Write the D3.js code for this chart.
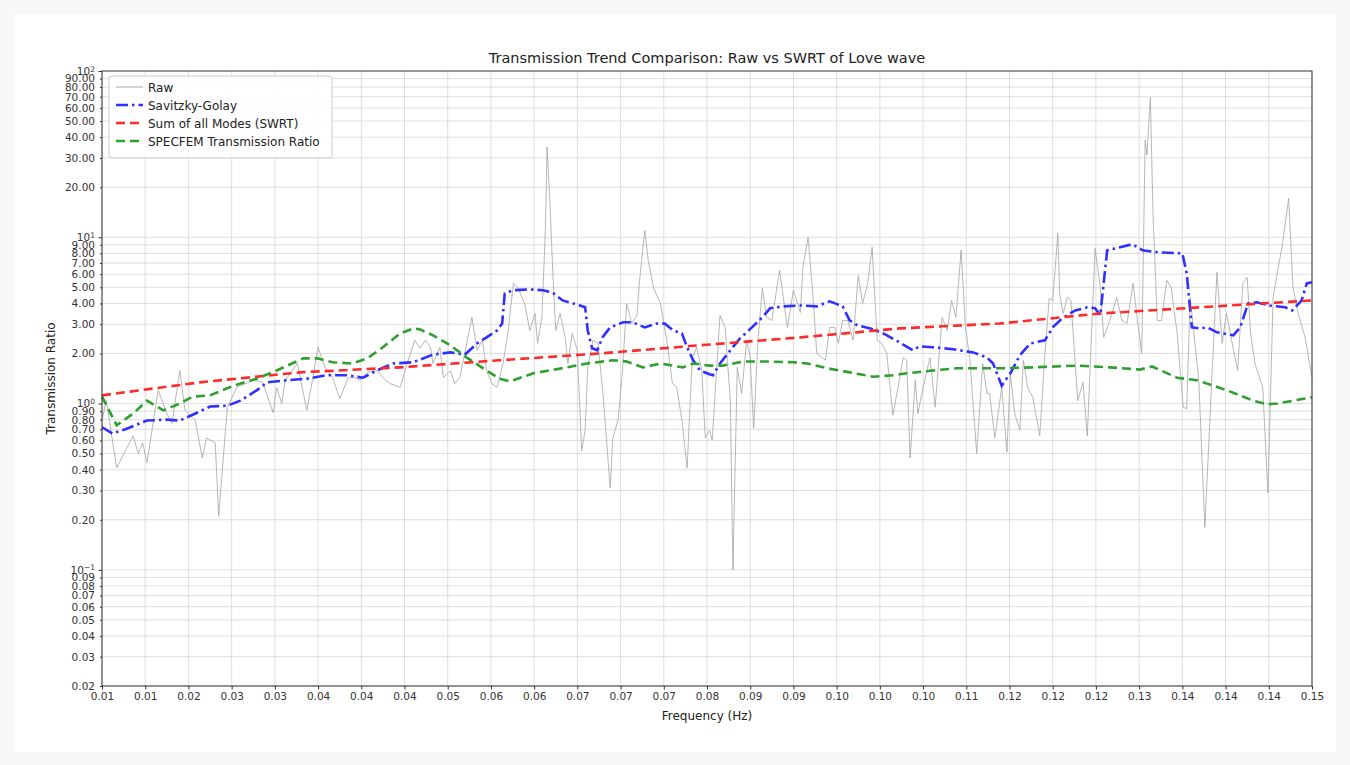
<!DOCTYPE html>
<html>
<head>
<meta charset="utf-8">
<script src="https://cdn.jsdelivr.net/npm/d3@7"></script>
<style>
  body { margin: 0; background: #f7f7f7; }
  svg { display: block; font-family: "DejaVu Sans", sans-serif; }
</style>
</head>
<body>
<svg id="chart" width="1350" height="765"></svg>
<script>
// x ticks and their labels (labels rounded to 2 decimals like the original)
const freqTicks = [0.01, 0.015, 0.02, 0.025, 0.03, 0.035, 0.04, 0.045, 0.05, 0.055,
  0.06, 0.065, 0.07, 0.075, 0.08, 0.085, 0.09, 0.095, 0.10, 0.105, 0.11, 0.115,
  0.12, 0.125, 0.13, 0.135, 0.14, 0.145, 0.15];
const freqTickLabels = ['0.01', '0.01', '0.02', '0.03', '0.03', '0.04', '0.04', '0.04', '0.05', '0.06',
  '0.06', '0.07', '0.07', '0.07', '0.08', '0.09', '0.09', '0.10', '0.10', '0.10', '0.11', '0.12',
  '0.12', '0.12', '0.13', '0.14', '0.14', '0.14', '0.15'];

const yMajorTicks = [0.1, 1, 10, 100];
const yMajorExp = ['\u22121', '0', '1', '2'];
const yMinorTicks = [0.02, 0.03, 0.04, 0.05, 0.06, 0.07, 0.08, 0.09,
  0.2, 0.3, 0.4, 0.5, 0.6, 0.7, 0.8, 0.9,
  2, 3, 4, 5, 6, 7, 8, 9,
  20, 30, 40, 50, 60, 70, 80, 90];

// [frequency, ratio]
const rawPoints = [
  [0.0100, 0.79], [0.0105, 1.04], [0.0117, 0.41], [0.0136, 0.64], [0.0142, 0.50],
  [0.0147, 0.58], [0.0152, 0.44], [0.0165, 1.20], [0.0175, 0.87], [0.0181, 0.76],
  [0.0190, 1.58], [0.0196, 0.91], [0.0208, 0.79], [0.0216, 0.47], [0.0221, 0.62],
  [0.0231, 0.58], [0.0235, 0.21], [0.0245, 0.95], [0.0256, 1.25], [0.0275, 1.38],
  [0.0286, 1.34], [0.0298, 0.88], [0.0302, 1.25], [0.0308, 1.00], [0.0312, 1.38],
  [0.0326, 1.74], [0.0337, 0.91], [0.0344, 1.43], [0.0350, 2.18], [0.0358, 1.65],
  [0.0367, 1.43], [0.0375, 1.07], [0.0385, 1.43], [0.0393, 1.43], [0.0399, 1.38],
  [0.0407, 1.54], [0.0418, 1.58], [0.0425, 1.43], [0.0433, 1.32], [0.0445, 1.25],
  [0.0453, 1.74], [0.0462, 2.40], [0.0468, 2.15], [0.0474, 2.40], [0.0480, 2.18],
  [0.0483, 1.74], [0.0491, 2.18], [0.0495, 1.43], [0.0503, 1.58], [0.0508, 1.32],
  [0.0514, 1.43], [0.0522, 2.30], [0.0528, 3.30], [0.0534, 2.09], [0.0540, 2.40],
  [0.0545, 1.58], [0.0551, 1.32], [0.0557, 1.25], [0.0564, 1.74], [0.0570, 2.75],
  [0.0576, 5.28], [0.0581, 5.00], [0.0589, 4.00], [0.0595, 2.75], [0.0601, 3.48],
  [0.0604, 2.30], [0.0609, 3.30], [0.0613, 11.0], [0.0615, 34.8], [0.0618, 17.4],
  [0.0622, 5.51], [0.0625, 2.75], [0.0630, 3.48], [0.0636, 2.50], [0.0639, 1.74],
  [0.0644, 2.64], [0.0650, 2.09], [0.0655, 0.52], [0.0659, 0.69], [0.0662, 1.65],
  [0.0668, 2.40], [0.0674, 2.30], [0.0680, 1.09], [0.0688, 0.31], [0.0691, 0.62],
  [0.0697, 0.79], [0.0702, 1.52], [0.0707, 4.00], [0.0713, 3.03], [0.0719, 3.39],
  [0.0722, 5.51], [0.0728, 11.0], [0.0732, 7.27], [0.0738, 5.00], [0.0746, 4.00],
  [0.0754, 2.30], [0.0760, 1.32], [0.0765, 1.25], [0.0771, 0.79], [0.0777, 0.41],
  [0.0783, 1.89], [0.0788, 2.18], [0.0794, 1.58], [0.0798, 0.62], [0.0803, 0.69],
  [0.0806, 0.60], [0.0815, 3.39], [0.0821, 2.87], [0.0827, 1.04], [0.0830, 0.10],
  [0.0835, 1.65], [0.0840, 1.15], [0.0846, 2.40], [0.0850, 1.89], [0.0854, 0.71],
  [0.0859, 2.40], [0.0864, 4.93], [0.0869, 3.30], [0.0875, 3.16], [0.0884, 6.33],
  [0.0893, 2.87], [0.0900, 4.80], [0.0908, 3.53], [0.0911, 6.60], [0.0917, 10.0],
  [0.0923, 4.17], [0.0927, 2.00], [0.0937, 1.82], [0.0942, 2.87], [0.0948, 2.87],
  [0.0952, 2.30], [0.0957, 3.16], [0.0963, 3.16], [0.0969, 2.40], [0.0975, 5.90],
  [0.0980, 4.00], [0.0986, 5.28], [0.0991, 8.71], [0.0997, 2.40], [0.1002, 2.30],
  [0.1008, 2.00], [0.1015, 0.85], [0.1021, 1.25], [0.1027, 1.89], [0.1031, 1.82],
  [0.1035, 0.47], [0.1041, 1.38], [0.1044, 0.87], [0.1050, 1.25], [0.1058, 1.89],
  [0.1064, 0.95], [0.1072, 3.30], [0.1078, 2.75], [0.1083, 4.17], [0.1088, 3.30],
  [0.1094, 8.35], [0.1099, 2.87], [0.1104, 1.89], [0.1112, 0.50], [0.1119, 1.74],
  [0.1124, 1.15], [0.1127, 1.15], [0.1133, 0.62], [0.1141, 1.25], [0.1147, 0.51],
  [0.1151, 1.52], [0.1156, 0.87], [0.1162, 0.69], [0.1166, 1.82], [0.1171, 1.25],
  [0.1177, 1.09], [0.1185, 0.64], [0.1191, 2.00], [0.1196, 4.29], [0.1200, 4.17],
  [0.1206, 10.6], [0.1208, 4.60], [0.1212, 3.48], [0.1217, 4.35], [0.1221, 4.17],
  [0.1229, 1.04], [0.1235, 1.34], [0.1240, 0.64], [0.1249, 8.59], [0.1255, 5.00],
  [0.1259, 2.50], [0.1266, 3.16], [0.1274, 4.35], [0.1280, 3.16], [0.1286, 3.03],
  [0.1293, 5.28], [0.1299, 2.87], [0.1303, 2.00], [0.1307, 38.4], [0.1309, 31.2],
  [0.1313, 69.7], [0.1316, 13.9], [0.1321, 3.16], [0.1326, 3.16], [0.1332, 5.51],
  [0.1337, 5.00], [0.1344, 2.64], [0.1351, 0.95], [0.1355, 0.93], [0.1359, 4.35],
  [0.1365, 2.18], [0.1369, 1.38], [0.1376, 0.18], [0.1384, 1.38], [0.1390, 6.15],
  [0.1396, 2.30], [0.1401, 3.48], [0.1407, 2.40], [0.1414, 1.58], [0.1420, 5.28],
  [0.1425, 5.74], [0.1429, 2.64], [0.1434, 1.74], [0.1443, 1.25], [0.1449, 0.29],
  [0.1455, 4.35], [0.1466, 9.20], [0.1473, 17.2], [0.1478, 5.00], [0.1484, 3.48],
  [0.1492, 2.50], [0.1500, 1.43]
];

const sgPoints = [
  [0.0100, 0.72], [0.0112, 0.66], [0.0127, 0.70], [0.0152, 0.79], [0.0175, 0.80],
  [0.0190, 0.79], [0.0210, 0.88], [0.0225, 0.96], [0.0245, 0.97], [0.0260, 1.04],
  [0.0279, 1.20], [0.0291, 1.34], [0.0314, 1.38], [0.0337, 1.41], [0.0360, 1.48],
  [0.0383, 1.48], [0.0402, 1.43], [0.0418, 1.58], [0.0437, 1.74], [0.0460, 1.77],
  [0.0483, 1.97], [0.0503, 2.03], [0.0520, 1.97], [0.0534, 2.30], [0.0545, 2.50],
  [0.0557, 2.75], [0.0563, 3.03], [0.0566, 4.60], [0.0576, 4.80], [0.0595, 4.86],
  [0.0610, 4.80], [0.0621, 4.66], [0.0633, 4.17], [0.0653, 3.89], [0.0659, 3.79],
  [0.0662, 2.75], [0.0667, 2.15], [0.0673, 2.09], [0.0679, 2.50], [0.0688, 2.87],
  [0.0703, 3.08], [0.0714, 3.08], [0.0728, 2.87], [0.0742, 3.03], [0.0751, 3.03],
  [0.0761, 2.75], [0.0771, 2.64], [0.0777, 2.18], [0.0784, 1.82], [0.0792, 1.58],
  [0.0803, 1.50], [0.0807, 1.48], [0.0815, 1.74], [0.0827, 2.09], [0.0838, 2.46],
  [0.0852, 2.87], [0.0864, 3.30], [0.0873, 3.74], [0.0888, 3.84], [0.0908, 3.89],
  [0.0927, 3.84], [0.0942, 4.12], [0.0957, 3.84], [0.0965, 3.16], [0.0974, 2.95],
  [0.0989, 2.83], [0.1004, 2.64], [0.1023, 2.33], [0.1038, 2.09], [0.1046, 2.21],
  [0.1061, 2.18], [0.1085, 2.12], [0.1108, 2.03], [0.1124, 1.89], [0.1131, 1.74],
  [0.1141, 1.28], [0.1151, 1.52], [0.1162, 1.95], [0.1174, 2.30], [0.1191, 2.40],
  [0.1200, 2.87], [0.1211, 3.25], [0.1226, 3.63], [0.1240, 3.79], [0.1249, 3.74],
  [0.1255, 3.39], [0.1263, 8.35], [0.1278, 8.71], [0.1292, 9.08], [0.1304, 8.35],
  [0.1322, 8.12], [0.1350, 8.01], [0.1355, 6.07], [0.1361, 2.87], [0.1370, 2.83],
  [0.1379, 2.87], [0.1390, 2.68], [0.1409, 2.57], [0.1417, 2.87], [0.1426, 4.00],
  [0.1436, 4.06], [0.1451, 3.89], [0.1469, 3.79], [0.1477, 3.63], [0.1488, 4.17],
  [0.1494, 5.28], [0.1500, 5.36]
];

const swrtPoints = [
  [0.0100, 1.12], [0.0213, 1.34], [0.0329, 1.54], [0.0445, 1.65], [0.0560, 1.82],
  [0.0676, 2.00], [0.0792, 2.24], [0.0908, 2.50], [0.1023, 2.83], [0.1139, 3.03],
  [0.1255, 3.48], [0.1370, 3.79], [0.1500, 4.17]
];

const specfemPoints = [
  [0.0100, 1.10], [0.0117, 0.74], [0.0136, 0.87], [0.0152, 1.04], [0.0171, 0.91],
  [0.0190, 1.00], [0.0205, 1.10], [0.0225, 1.12], [0.0252, 1.28], [0.0279, 1.41],
  [0.0302, 1.58], [0.0333, 1.87], [0.0349, 1.87], [0.0367, 1.77], [0.0390, 1.74],
  [0.0407, 1.87], [0.0425, 2.18], [0.0445, 2.64], [0.0460, 2.83], [0.0468, 2.79],
  [0.0483, 2.57], [0.0503, 2.24], [0.0522, 1.89], [0.0545, 1.58], [0.0560, 1.41],
  [0.0572, 1.36], [0.0599, 1.52], [0.0638, 1.65], [0.0661, 1.74], [0.0691, 1.82],
  [0.0707, 1.79], [0.0726, 1.65], [0.0746, 1.74], [0.0772, 1.65], [0.0784, 1.74],
  [0.0803, 1.69], [0.0818, 1.69], [0.0842, 1.79], [0.0869, 1.79], [0.0900, 1.77],
  [0.0916, 1.74], [0.0939, 1.63], [0.0965, 1.54], [0.0992, 1.45], [0.1015, 1.48],
  [0.1031, 1.52], [0.1061, 1.58], [0.1089, 1.63], [0.1139, 1.63], [0.1177, 1.65],
  [0.1228, 1.69], [0.1266, 1.65], [0.1301, 1.60], [0.1315, 1.67], [0.1344, 1.43],
  [0.1367, 1.38], [0.1402, 1.20], [0.1432, 1.04], [0.1448, 0.99], [0.1460, 1.00],
  [0.1500, 1.09]
];

const seriesNames = ['Raw', 'Savitzky-Golay', 'Sum of all Modes (SWRT)', 'SPECFEM Transmission Ratio'];

const svg = d3.select('#chart');
const plotLeft = 102, plotRight = 1312, plotTop = 71, plotBottom = 686;

svg.append('rect').attr('x', 14).attr('y', 14).attr('width', 1322).attr('height', 738).attr('fill', '#fff');

const x = d3.scaleLinear().domain([0.01, 0.15]).range([plotLeft, plotRight]);
const y = d3.scaleLog().domain([0.02, 100]).range([plotBottom, plotTop]);

// grid
const grid = svg.append('g').attr('stroke', '#d6d6d6').attr('stroke-width', 0.8);
grid.selectAll('.vg').data(freqTicks).enter().append('line')
  .attr('x1', d => x(d)).attr('x2', d => x(d)).attr('y1', plotTop).attr('y2', plotBottom);
grid.selectAll('.hg').data(yMajorTicks.concat(yMinorTicks).filter(d => d < 100)).enter().append('line')
  .attr('x1', plotLeft).attr('x2', plotRight).attr('y1', d => y(d)).attr('y2', d => y(d));

const plot = svg.append('g');
const line = d3.line().x(d => x(d[0])).y(d => y(d[1]));

plot.append('path').datum(rawPoints).attr('d', line)
  .attr('fill', 'none').attr('stroke', '#a0a0a0').attr('stroke-width', 0.9).attr('stroke-opacity', 0.85);
plot.append('path').datum(sgPoints).attr('d', line)
  .attr('fill', 'none').attr('stroke', '#2f2fff').attr('stroke-width', 2.6).attr('stroke-dasharray', '12,4,2.5,4');
plot.append('path').datum(swrtPoints).attr('d', line)
  .attr('fill', 'none').attr('stroke', '#ff2a2a').attr('stroke-width', 2.6).attr('stroke-dasharray', '9,5');
plot.append('path').datum(specfemPoints).attr('d', line)
  .attr('fill', 'none').attr('stroke', '#2ea02e').attr('stroke-width', 2.6).attr('stroke-dasharray', '9,5');

// axes
const xAxis = svg.append('g').attr('transform', `translate(0,${plotBottom})`)
  .call(d3.axisBottom(x).tickValues(freqTicks).tickFormat((d, i) => freqTickLabels[i]).tickSize(3.5).tickPadding(3));
const yMinor = svg.append('g').attr('transform', `translate(${plotLeft},0)`)
  .call(d3.axisLeft(y).tickValues(yMinorTicks).tickFormat(d3.format('.2f')).tickSize(2).tickPadding(5));
const yMajor = svg.append('g').attr('transform', `translate(${plotLeft},0)`)
  .call(d3.axisLeft(y).tickValues(yMajorTicks).tickFormat('').tickSize(3.5).tickPadding(3.5));

[xAxis, yMinor, yMajor].forEach(a => {
  a.select('.domain').remove();
  a.selectAll('line').attr('stroke', '#333');
  a.selectAll('text').attr('font-size', 10.5).attr('fill', '#333').attr('font-family', '"DejaVu Sans", sans-serif');
});

yMajor.selectAll('.tick text').each(function (d, i) {
  const t = d3.select(this);
  t.text('10');
  t.append('tspan').attr('dy', '-0.45em').attr('font-size', 7.5).text(yMajorExp[i]);
});

// frame
svg.append('rect').attr('x', plotLeft).attr('y', plotTop).attr('width', plotRight - plotLeft).attr('height', plotBottom - plotTop)
  .attr('fill', 'none').attr('stroke', '#333').attr('stroke-width', 1);

// titles
svg.append('text').attr('x', (plotLeft + plotRight) / 2).attr('y', 63).attr('text-anchor', 'middle')
  .attr('font-size', 14.5).attr('fill', '#222').text('Transmission Trend Comparison: Raw vs SWRT of Love wave');
svg.append('text').attr('x', (plotLeft + plotRight) / 2).attr('y', 720).attr('text-anchor', 'middle')
  .attr('font-size', 12).attr('fill', '#222').text('Frequency (Hz)');
svg.append('text').attr('transform', `translate(55,${(plotTop + plotBottom) / 2}) rotate(-90)`).attr('text-anchor', 'middle')
  .attr('font-size', 12).attr('fill', '#222').text('Transmission Ratio');

// legend
const legend = svg.append('g');
legend.append('rect').attr('x', 109).attr('y', 76).attr('width', 223).attr('height', 82).attr('rx', 3)
  .attr('fill', '#fff').attr('fill-opacity', 0.85).attr('stroke', '#ccc');
const legendStyles = [
  { stroke: '#a0a0a0', width: 0.9, dash: null },
  { stroke: '#2f2fff', width: 2.6, dash: '12,4,2.5,4' },
  { stroke: '#ff2a2a', width: 2.6, dash: '9,5' },
  { stroke: '#2ea02e', width: 2.6, dash: '9,5' }
];
const item = legend.selectAll('g').data(seriesNames).enter().append('g')
  .attr('transform', (d, i) => `translate(0,${87 + i * 18})`);
item.append('line').attr('x1', 116).attr('x2', 143).attr('y1', 0).attr('y2', 0)
  .attr('stroke', (d, i) => legendStyles[i].stroke).attr('stroke-width', (d, i) => legendStyles[i].width)
  .attr('stroke-dasharray', (d, i) => legendStyles[i].dash);
item.append('text').attr('x', 148).attr('y', 4.5).attr('font-size', 12).attr('fill', '#222').text(d => d);
</script>
</body>
</html>
